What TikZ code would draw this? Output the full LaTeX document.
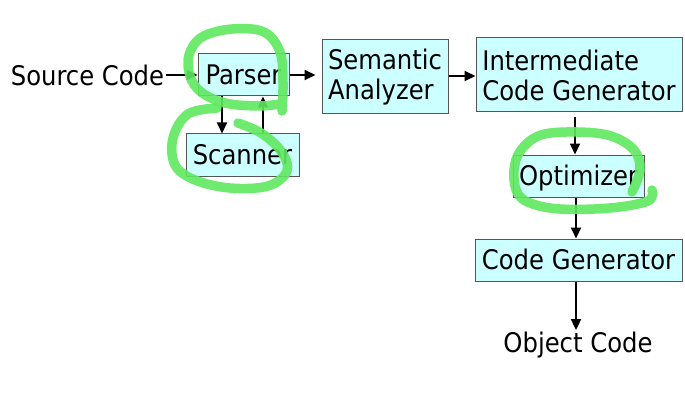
\documentclass[tikz,border=0pt]{standalone}
\usepackage{fontspec}
\setmainfont{DejaVu Sans Condensed}
\usetikzlibrary{arrows.meta}
\definecolor{boxfill}{RGB}{204,255,255}
\definecolor{boxline}{RGB}{85,85,85}
\definecolor{hl}{RGB}{95,232,95}
\begin{document}
\begin{tikzpicture}[x=1pt,y=-1pt,
  every node/.style={font=\fontsize{27}{30}\selectfont},
  stage/.style={draw=boxline,fill=boxfill,line width=1pt,inner sep=0pt,
    text height=19.5pt,text depth=0pt},
  stage2/.style={draw=boxline,fill=boxfill,line width=1pt,inner sep=0pt,align=left},
  label/.style={inner sep=0pt,text height=19.5pt,text depth=0pt},
  flow/.style={line width=2pt,-{Triangle[length=11pt,width=10pt]}},
  marker/.style={draw=hl,opacity=0.9,line width=9.5pt,line cap=round,line join=round}]
\useasboundingbox (0,0) rectangle (685,393);
\fill[white] (0,0) rectangle (685,393);

\node[label] (src) at (87.5,76) {Source Code};
\node[stage,minimum width=91pt,minimum height=42pt] (parser) at (243.5,75) {Parser};
\node[stage,minimum width=113pt,minimum height=42pt] (scanner) at (242.5,155) {Scanner};
\node[stage2,minimum width=126pt,minimum height=74pt] (sem) at (385,77) {Semantic\\Analyzer};
\node[stage2,minimum width=206pt,minimum height=74pt] (inter) at (579,75) {Intermediate\\Code Generator};
\node[stage,minimum width=131pt,minimum height=42pt] (opt) at (578.5,176) {Optimizer};
\node[stage,minimum width=207pt,minimum height=42pt] (cg) at (578.5,260) {Code Generator};
\node[label] (obj) at (578,343) {Object Code};

\draw[flow,shorten <=2pt] (src.east |- parser.west) -- (parser.west);
\draw[flow,shorten >=6pt] (parser.east) -- (parser.east -| sem.west);
\draw[flow] ([yshift=1pt]sem.east) -- ([yshift=1pt]sem.east -| inter.west);
\draw[flow] ([xshift=-21.5pt]parser.south) -- ([xshift=-21.5pt]parser.south |- scanner.north);
\draw[flow] ([xshift=19.5pt]parser.south |- scanner.north) -- ([xshift=19.5pt]parser.south);
\draw[flow,shorten <=5pt] ([xshift=-3.5pt]opt.north |- inter.south) -- ([xshift=-3.5pt]opt.north);
\draw[flow] ([xshift=-2.5pt]opt.south) -- ([xshift=-2.5pt]opt.south |- cg.north);
\draw[flow,shorten >=3pt] ([xshift=-2.5pt]cg.south) -- ([xshift=-2.5pt]cg.south |- obj.north);

% highlighter strokes
\draw[marker] plot[smooth,tension=0.6] coordinates {(282,111) (283,82) (280,52) (264,32) (232,29) (202,37) (189,55) (190,76) (201,92) (225,103) (258,106) (280,104)};
\draw[marker] plot[smooth,tension=0.6] coordinates {(217,108) (188,114) (173,138) (175,165) (195,180) (230,188) (268,186) (287,171) (281,151) (261,133) (238,123)};
\draw[marker] plot[smooth,tension=0.6] coordinates {(632,192) (640,170) (634,150) (611,136) (577,132) (541,135) (521,150) (514,170) (517,192) (530,203) (560,209) (610,208) (648,201) (652,190)};
\end{tikzpicture}
\end{document}
